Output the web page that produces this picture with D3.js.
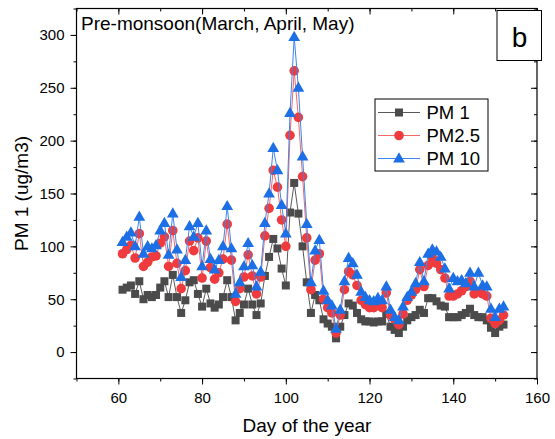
<!DOCTYPE html>
<html>
<head>
<meta charset="utf-8">
<script src="https://cdn.jsdelivr.net/npm/d3@7"></script>
<style>
  html, body { margin: 0; padding: 0; background: #fff; }
  svg { display: block; font-family: "Liberation Sans", Arial, sans-serif; }
</style>
</head>
<body>
<svg id="chart" width="555" height="439"></svg>
<script>
// Day of the year, pre-monsoon season (1 March - 31 May)
const days = [61,62,63,64,65,66,67,68,69,70,71,72,73,74,75,76,77,78,79,80,
  81,82,83,84,85,86,87,88,89,90,91,92,93,94,95,96,97,98,99,100,
  101,102,103,104,105,106,107,108,109,110,111,112,113,114,115,116,117,118,119,120,
  121,122,123,124,125,126,127,128,129,130,131,132,133,134,135,136,137,138,139,140,
  141,142,143,144,145,146,147,148,149,150,151,152];

// Daily mean concentrations (ug/m3)
const pm1 = [59,61,63,55,67,50,54,52,54,61,67,52,73,52,37,49,66,68,55,43,
  60,46,42,45,52,68,52,30,37,45,60,45,35,46,72,90,107,98,79,63,
  132,160,131,100,66,37,54,49,31,27,24,13,24,35,46,44,37,31,29,29,
  28,29,29,36,24,21,18,24,30,33,35,40,37,51,51,48,44,43,33,33,
  33,35,37,41,35,33,33,30,23,18,24,26];

const pm25 = [93,97,101,89,112,81,85,90,91,103,109,81,115,84,60,77,105,96,108,70,
  105,80,69,75,88,121,87,48,60,71,92,72,55,71,110,136,172,156,125,100,
  205,266,222,166,108,59,87,93,50,42,37,18,35,59,76,73,63,49,45,42,
  42,44,42,56,35,31,26,36,49,54,59,78,62,82,89,84,78,70,53,53,
  55,58,62,67,55,57,55,53,32,27,30,35];

const pm10 = [104,109,113,100,128,93,100,98,101,115,122,92,131,97,71,87,119,109,122,81,
  115,88,78,87,100,138,98,55,66,81,103,82,62,76,122,150,193,172,139,112,
  226,298,250,185,121,66,96,106,58,49,44,22,40,67,89,84,73,57,52,49,
  48,51,49,62,40,33,30,43,52,57,65,85,67,93,97,95,90,79,60,70,
  67,68,65,75,62,75,63,62,41,33,41,43];

const xTicks = [60, 80, 100, 120, 140, 160];
const yTicks = [0, 50, 100, 150, 200, 250, 300];
const seriesNames = ["PM 1", "PM2.5", "PM 10"];

const series = [
  { name: seriesNames[0], values: pm1,  color: "#4b4b4b", line: "#5a5a5a", shape: "square" },
  { name: seriesNames[1], values: pm25, color: "#ef3b3e", line: "#f4686a", shape: "circle" },
  { name: seriesNames[2], values: pm10, color: "#1c6fe4", line: "#3d86ec", shape: "triangle" }
];

const svg = d3.select("#chart");
const plotL = 76.5, plotR = 537, plotT = 8.5, plotB = 378.5;

const x = d3.scaleLinear().domain([50, 160]).range([plotL, plotR]);
const y = d3.scaleLinear().domain([-25, 325]).range([plotB, plotT]);

// Axes: outward ticks on the left and bottom, inward ticks on the top and right
const minorX = d3.range(50, 161, 10);
const minorY = d3.range(-25, 326, 25);

function tickStyle(g) {
  g.select(".domain").remove();
  g.selectAll("line").attr("stroke", "#000").attr("stroke-width", 1);
  g.selectAll("text").attr("font-size", 15).attr("fill", "#000");
}

svg.append("g").attr("transform", `translate(0,${plotB})`)
  .call(d3.axisBottom(x).tickValues(minorX).tickSize(3).tickFormat(""))
  .call(tickStyle);
svg.append("g").attr("transform", `translate(0,${plotB})`)
  .call(d3.axisBottom(x).tickValues(xTicks).tickSize(6).tickPadding(8).tickFormat(d3.format("d")))
  .call(tickStyle);

svg.append("g").attr("transform", `translate(${plotL},0)`)
  .call(d3.axisLeft(y).tickValues(minorY).tickSize(3).tickFormat(""))
  .call(tickStyle);
svg.append("g").attr("transform", `translate(${plotL},0)`)
  .call(d3.axisLeft(y).tickValues(yTicks).tickSize(6).tickPadding(6).tickFormat(d3.format("d")))
  .call(tickStyle);

svg.append("g").attr("transform", `translate(0,${plotT})`)
  .call(d3.axisBottom(x).tickValues(minorX).tickSize(3).tickFormat(""))
  .call(tickStyle);
svg.append("g").attr("transform", `translate(0,${plotT})`)
  .call(d3.axisBottom(x).tickValues(xTicks).tickSize(6).tickFormat(""))
  .call(tickStyle);
svg.append("g").attr("transform", `translate(${plotR},0)`)
  .call(d3.axisLeft(y).tickValues(minorY).tickSize(3).tickFormat(""))
  .call(tickStyle);
svg.append("g").attr("transform", `translate(${plotR},0)`)
  .call(d3.axisLeft(y).tickValues(yTicks).tickSize(6).tickFormat(""))
  .call(tickStyle);

// Frame
svg.append("rect")
  .attr("x", plotL).attr("y", plotT)
  .attr("width", plotR - plotL).attr("height", plotB - plotT)
  .attr("fill", "none").attr("stroke", "#000").attr("stroke-width", 1.2);

// Axis titles
svg.append("text")
  .attr("x", 307).attr("y", 432)
  .attr("text-anchor", "middle").attr("font-size", 19)
  .text("Day of the year");
svg.append("text")
  .attr("transform", `translate(28,${(plotT + plotB) / 2}) rotate(-90)`)
  .attr("text-anchor", "middle").attr("font-size", 19)
  .text("PM 1 (ug/m3)");

// Season label and panel letter
svg.append("text")
  .attr("x", 81).attr("y", 30)
  .attr("font-size", 19)
  .text("Pre-monsoon(March, April, May)");

svg.append("rect")
  .attr("x", 497).attr("y", 10.5).attr("width", 44.5).attr("height", 50)
  .attr("fill", "#fff").attr("stroke", "#000").attr("stroke-width", 1);
svg.append("text")
  .attr("x", 519.5).attr("y", 47).attr("text-anchor", "middle")
  .attr("font-size", 28).text("b");

// Markers
const triPath = d3.symbol().type(d3.symbolTriangle).size(60)();
function drawMarker(sel, shape, color) {
  if (shape === "square") {
    sel.append("rect").attr("x", -4).attr("y", -4).attr("width", 8).attr("height", 8)
      .attr("fill", color);
  } else if (shape === "circle") {
    sel.append("circle").attr("r", 4.8).attr("fill", color);
  } else {
    sel.append("path").attr("d", triPath).attr("transform", "translate(0,0.5)").attr("fill", color);
  }
}

const line = d3.line()
  .x((d, i) => x(days[i]))
  .y(d => y(d));

const plot = svg.append("g");
series.forEach(s => {
  const g = plot.append("g");
  g.append("path")
    .attr("d", line(s.values))
    .attr("fill", "none")
    .attr("stroke", s.line)
    .attr("stroke-width", 1);
  g.selectAll("g.pt").data(s.values).enter().append("g")
    .attr("class", "pt")
    .attr("transform", (d, i) => `translate(${x(days[i])},${y(d)})`)
    .each(function () { drawMarker(d3.select(this), s.shape, s.color); });
});

// Legend
const legend = svg.append("g");
legend.append("rect")
  .attr("x", 375).attr("y", 99).attr("width", 113).attr("height", 72)
  .attr("fill", "#fff").attr("stroke", "#000").attr("stroke-width", 1);
series.forEach((s, i) => {
  const cy = 112.5 + i * 23;
  const row = legend.append("g");
  row.append("line").attr("x1", 378).attr("x2", 420).attr("y1", cy).attr("y2", cy)
    .attr("stroke", s.line).attr("stroke-width", 1);
  const m = row.append("g").attr("transform", `translate(399,${cy})`);
  drawMarker(m, s.shape, s.color);
  row.append("text").attr("x", 426.5).attr("y", cy + 6.5)
    .attr("font-size", 18.5).text(s.name);
});
</script>
</body>
</html>
